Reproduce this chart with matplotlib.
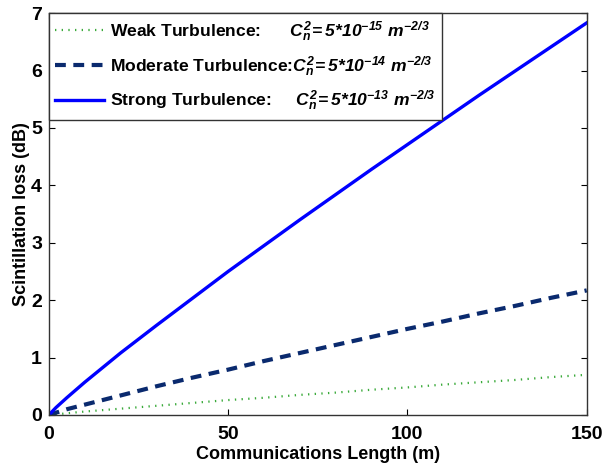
import matplotlib
matplotlib.use("Agg")
import matplotlib.pyplot as plt

plt.rcParams['font.family'] = ['Liberation Sans', 'DejaVu Sans']
plt.rcParams['font.weight'] = 'bold'
plt.rcParams['mathtext.fontset'] = 'custom'
plt.rcParams['mathtext.it'] = 'Liberation Sans:bold:italic'
plt.rcParams['mathtext.rm'] = 'Liberation Sans:bold:italic'
plt.rcParams['mathtext.default'] = 'it'

length_m = [0, 2, 5, 10, 20, 30, 40, 50, 60, 70, 80, 90, 100, 110, 120, 130, 140, 150]
weak = [0, 0.01, 0.03, 0.06, 0.11, 0.16, 0.21, 0.26, 0.30, 0.35, 0.39, 0.44, 0.48, 0.53, 0.57, 0.61, 0.66, 0.70]
moderate = [0, 0.04, 0.10, 0.18, 0.34, 0.50, 0.65, 0.79, 0.94, 1.08, 1.22, 1.36, 1.50, 1.63, 1.77, 1.90, 2.04, 2.17]
strong = [0, 0.13, 0.30, 0.57, 1.08, 1.56, 2.03, 2.50, 2.95, 3.40, 3.84, 4.28, 4.71, 5.14, 5.57, 5.99, 6.41, 6.83]

labels = [
    r'Weak Turbulence:      $C_n^2\!{=}{5}{*}{10}^{-15}\ m^{-2/3}$',
    r'Moderate Turbulence:$C_n^2\!{=}{5}{*}{10}^{-14}\ m^{-2/3}$',
    r'Strong Turbulence:     $C_n^2\!{=}{5}{*}{10}^{-13}\ m^{-2/3}$',
]
xticks = [0, 50, 100, 150]
yticks = [0, 1, 2, 3, 4, 5, 6, 7]

fig = plt.figure(figsize=(6.03, 4.63), dpi=100)
ax = fig.add_axes([0.081, 0.1037, 0.892, 0.868])

ax.plot(length_m, weak, color='#3aaa3a', linestyle=(0, (0.6, 2.4)), linewidth=1.6, label=labels[0])
ax.plot(length_m, moderate, color='#0a2a6e', linestyle=(0, (2.6, 1.8)), linewidth=3.0, label=labels[1])
ax.plot(length_m, strong, color='#0000ff', linestyle='-', linewidth=2.4, label=labels[2])

ax.set_xlim(0, 150)
ax.set_ylim(0, 7)
ax.set_xticks(xticks)
ax.set_yticks(yticks)
ax.tick_params(direction='in', top=True, right=True, labelsize=14, length=4, width=0.8)
ax.tick_params(axis='x', pad=8)
ax.tick_params(axis='y', pad=5)
for s in ax.spines.values():
    s.set_color('#333333')
    s.set_linewidth(1.0)
ax.set_xlabel('Communications Length (m)', fontsize=13, fontweight='bold', labelpad=2)
ax.set_ylabel('Scintillation loss (dB)', fontsize=13, fontweight='bold', labelpad=1)

leg = ax.legend(loc='upper left', bbox_to_anchor=(0, 1), fontsize=12.6, frameon=True,
                fancybox=False, edgecolor='#333333', framealpha=1, borderaxespad=0,
                handlelength=2.8, handletextpad=0.35, labelspacing=0.6, borderpad=0.35)
leg.get_frame().set_linewidth(1.0)

fig.savefig('out.png', dpi=100)
